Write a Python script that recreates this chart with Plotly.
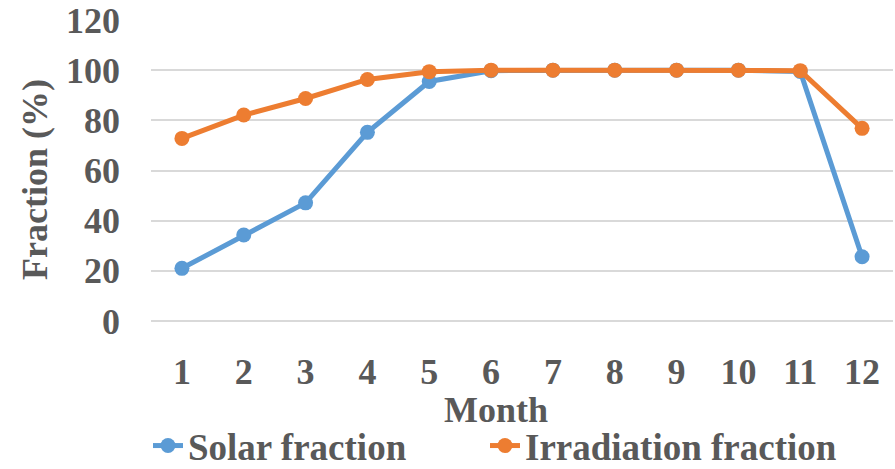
import plotly.graph_objects as go

months = ["1", "2", "3", "4", "5", "6", "7", "8", "9", "10", "11", "12"]
solar_fraction = [21.0, 34.3, 47.1, 75.2, 95.5, 99.8, 100, 100, 100, 100, 99.5, 25.6]
irradiation_fraction = [72.8, 82.1, 88.7, 96.3, 99.4, 100, 100, 100, 100, 100, 99.8, 76.8]
y_ticks = [0, 20, 40, 60, 80, 100, 120]

W, H = 895, 469
L, R, T, B = 151, 2, 20, 148
pw, ph = W - L - R, H - T - B

def px2paper(x, y):
    return (x - L) / pw, (H - B - y) / ph

FONT = dict(family="Liberation Serif", size=36, color="#595959", weight="bold")
LEG_FONT = dict(FONT, size=37)

fig = go.Figure()
fig.add_trace(go.Scatter(x=months, y=solar_fraction, name="Solar fraction", mode="lines+markers",
                         line=dict(color="#5B9BD5", width=5), marker=dict(size=15, color="#5B9BD5"),
                         legend="legend"))
fig.add_trace(go.Scatter(x=months, y=irradiation_fraction, name="Irradiation fraction", mode="lines+markers",
                         line=dict(color="#ED7D31", width=5), marker=dict(size=15, color="#ED7D31"),
                         legend="legend2"))

mx, my = px2paper(496, 410)
fx, fy = px2paper(35, 180)
l1x, ly = px2paper(148, 446)
l2x, _ = px2paper(485, 446)

leg_common = dict(orientation="h", xanchor="left", yanchor="middle",
                  font=LEG_FONT, bgcolor="rgba(0,0,0,0)")

fig.update_layout(
    width=W, height=H,
    margin=dict(l=L, r=R, t=T, b=B, pad=0, autoexpand=False),
    paper_bgcolor="white", plot_bgcolor="white",
    font=FONT,
    showlegend=True,
    legend=dict(leg_common, x=l1x, y=ly),
    legend2=dict(leg_common, x=l2x, y=ly),
    xaxis=dict(type="category", range=[-0.5, 11.5], showgrid=False, zeroline=False,
               showline=False, ticks="", tickfont=FONT, ticklabelstandoff=26),
    yaxis=dict(range=[0, 120], tickvals=y_ticks, showgrid=True, gridcolor="#D9D9D9", gridwidth=1.5,
               zeroline=True, zerolinecolor="#D9D9D9", zerolinewidth=1.5,
               showline=False, ticks="", tickfont=FONT, ticklabelstandoff=30),
    annotations=[
        dict(text="Month", x=mx, y=my, xref="paper", yref="paper", showarrow=False,
             xanchor="center", yanchor="middle", font=FONT),
        dict(text="Fraction (%)", x=fx, y=fy, xref="paper", yref="paper", showarrow=False,
             xanchor="center", yanchor="middle", textangle=-90, font=FONT),
    ],
)

fig.write_html("out.html")
